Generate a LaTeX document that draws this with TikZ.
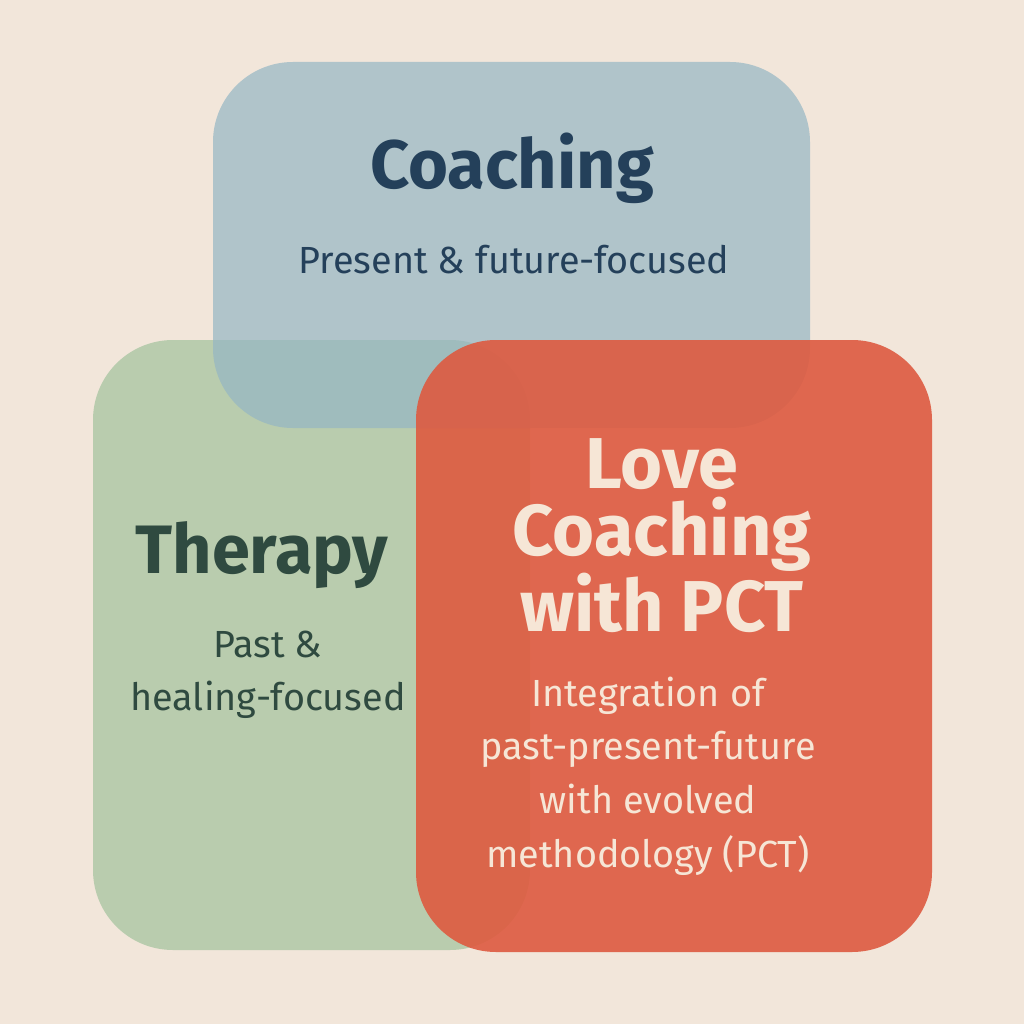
\documentclass[tikz,border=0pt]{standalone}
\usepackage{fontspec}
\setmainfont{Fira Sans}
\begin{document}
\begin{tikzpicture}[x=0.02cm,y=-0.02cm,
  box/.style={rounded corners=1.6cm},
  ttl/.style={font=\fontsize{39}{40}\selectfont\bfseries,anchor=center},
  sub/.style={font=\fontsize{21.5}{30}\selectfont,anchor=center,align=center}]
\definecolor{bg}{HTML}{F2E6DA}
\definecolor{gr}{HTML}{A6C4A0}
\definecolor{bl}{HTML}{94B6C4}
\definecolor{rd}{HTML}{DE5A40}
\definecolor{navy}{HTML}{24405A}
\definecolor{dgreen}{HTML}{2F4A40}
\definecolor{cream}{HTML}{F6E6D6}
\fill[bg] (0,0) rectangle (1024,1024);
\useasboundingbox (0,0) rectangle (1024,1024);
\fill[gr,box,opacity=0.75] (93,340) rectangle (530,950);
\fill[bl,box,opacity=0.7] (213,62) rectangle (810,428);
\fill[rd,box,opacity=0.9] (416,340) rectangle (932,952);
\node[ttl,text=navy] (c) at (512,168) {Coaching};
\node[sub,text=navy] (cs) at (514,260) {Present \& future-focused};
\node[ttl,text=dgreen] (t) at (262,555) {Therapy};
\node[sub,text=dgreen] (ts) at (268,675) {Past \&\\healing-focused};
\node[ttl,text=cream,align=center,font=\fontsize{41}{38}\selectfont\bfseries] (l) at (662,536) {Love\\Coaching\\with PCT};
\node[sub,text=cream,font=\fontsize{21.5}{30.5}\selectfont] (ls) at (648,776) {Integration of\\past-present-future\\with evolved\\methodology (PCT)};
\end{tikzpicture}
\end{document}
